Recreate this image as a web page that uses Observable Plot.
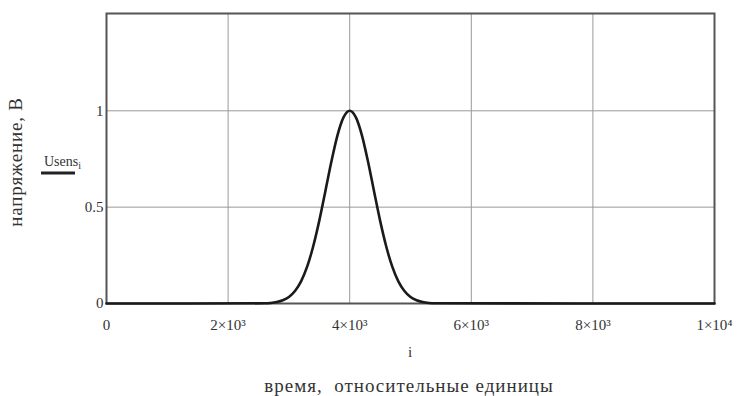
<!DOCTYPE html>
<html><head><meta charset="utf-8">
<script src="https://cdn.jsdelivr.net/npm/d3@7"></script>
<script src="https://cdn.jsdelivr.net/npm/@observablehq/plot@0.6"></script>
<style>
body{margin:0;background:#fff}svg{display:block}
svg text{font-family:"Liberation Serif","DejaVu Serif",serif !important}
svg g[aria-label$="tick label"]{font-size:15px !important}
svg g[aria-label$="tick label"] text{font-size:15px !important;fill:#333}
</style>
</head><body><div id="chart"></div>
<script>
// estimated readings of the curve (time index i, voltage Usens_i)
const iValues = [0, 2600, 2700, 2800, 2900, 3000, 3100, 3200, 3300, 3400, 3500, 3600, 3700, 3800, 3900, 4000,
  4100, 4200, 4300, 4400, 4500, 4600, 4700, 4800, 4900, 5000, 5100, 5200, 5300, 5400, 10000];
const usens = [0, 0.001, 0.003, 0.008, 0.017, 0.034, 0.065, 0.115, 0.191, 0.297, 0.430, 0.583, 0.738, 0.874, 0.967, 1.0,
  0.967, 0.874, 0.738, 0.583, 0.430, 0.297, 0.191, 0.115, 0.065, 0.034, 0.017, 0.008, 0.003, 0.001, 0];
const xTicks = [0, 2000, 4000, 6000, 8000, 10000];
const xTickLabels = ["0", "2×10³", "4×10³", "6×10³", "8×10³", "1×10⁴"];
const yTicks = [0, 0.5, 1];
const yTickLabels = ["0", "0.5", "1"];
const yLabel = "напряжение, В";
const xLabel = "i";
const caption = "время,  относительные единицы";
const legendName = "Usens";
const legendSub = "i";

const data = iValues.map((x, k) => ({x, y: usens[k]}));
const font = "Liberation Serif";

const chart = Plot.plot({
  width: 739, height: 396,
  marginLeft: 106, marginRight: 25, marginTop: 13, marginBottom: 93,
  style: {fontFamily: font, fontSize: "15px", color: "#333", background: "#fff"},
  x: {domain: [0, 10000], ticks: xTicks, tickFormat: d => xTickLabels[xTicks.indexOf(d)], tickSize: 0, tickPadding: 16, label: null},
  y: {domain: [0, 1.505], ticks: yTicks, tickFormat: d => yTickLabels[yTicks.indexOf(d)], tickSize: 0, tickPadding: 3, label: null},
  marks: [
    Plot.gridX(xTicks, {stroke: "#999", strokeOpacity: 1, strokeWidth: 1}),
    Plot.gridY(yTicks, {stroke: "#999", strokeOpacity: 1, strokeWidth: 1}),
    Plot.frame({stroke: "#555", strokeWidth: 2}),
    Plot.line(data, {x: "x", y: "y", stroke: "#1a1a1a", strokeWidth: 2.6, curve: "monotone-x"})
  ]
});
document.getElementById("chart").append(chart);

const svg = d3.select(chart);
svg.append("text").attr("transform", "translate(22,162) rotate(-90)")
  .attr("text-anchor", "middle").attr("font-size", 19).attr("letter-spacing", 0.8).attr("fill", "#333")
  .text(yLabel);
const lg = svg.append("text").attr("x", 44).attr("y", 166).attr("text-anchor", "start")
  .attr("font-size", 14).attr("fill", "#333");
lg.append("tspan").text(legendName);
lg.append("tspan").attr("dy", 3).attr("font-size", 10).text(legendSub);
svg.append("line").attr("x1", 41).attr("x2", 75).attr("y1", 173).attr("y2", 173).attr("stroke", "#222").attr("stroke-width", 3);
svg.append("text").attr("x", 410).attr("y", 357).attr("text-anchor", "middle")
  .attr("font-size", 15).attr("fill", "#333").text(xLabel);
svg.append("text").attr("x", 409).attr("y", 392).attr("text-anchor", "middle")
  .attr("font-size", 19).attr("letter-spacing", 1).attr("fill", "#333").text(caption);
</script></body></html>
